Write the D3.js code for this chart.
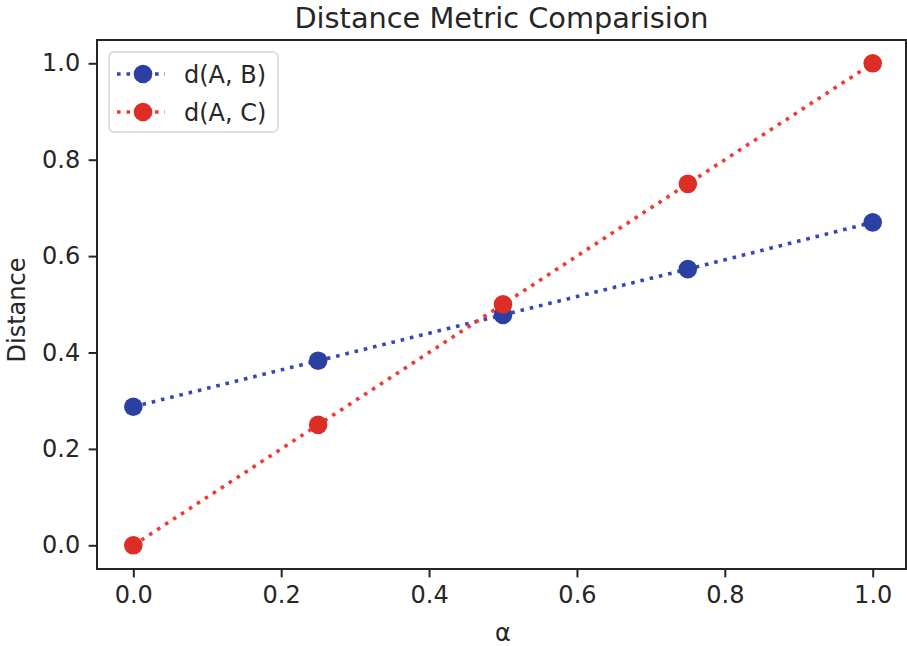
<!DOCTYPE html>
<html>
<head>
<meta charset="utf-8">
<script src="https://cdn.jsdelivr.net/npm/d3@7"></script>
<style>
  html, body { margin: 0; padding: 0; background: #fff; }
  svg { display: block; }
  text { font-family: "DejaVu Sans", sans-serif; fill: #262626; }
</style>
</head>
<body>
<svg id="chart" width="907" height="646"></svg>
<script>
const alphaValues = [0.0, 0.25, 0.5, 0.75, 1.0];
const dAB = [0.2875, 0.383, 0.478, 0.573, 0.670];
const dAC = [0.0, 0.25, 0.5, 0.75, 1.0];
const seriesNames = ["d(A, B)", "d(A, C)"];
const xTicks = [0.0, 0.2, 0.4, 0.6, 0.8, 1.0];
const yTicks = [0.0, 0.2, 0.4, 0.6, 0.8, 1.0];
const titleText = "Distance Metric Comparision";
const xLabel = "α";
const yLabel = "Distance";

const svg = d3.select("#chart");

// plot area
const plotL = 97, plotR = 906, plotT = 40, plotB = 569;
const x = d3.scaleLinear().domain([0, 1]).range([133.3, 872.7]);
const y = d3.scaleLinear().domain([0, 1]).range([545.3, 63.3]);

const series = [
  { name: seriesNames[0], values: dAB, line: "#3a44b6", marker: "#2c3fa3" },
  { name: seriesNames[1], values: dAC, line: "#f03a3a", marker: "#dc2e25" }
];

const fs = 24;

// axes
const xAxis = d3.axisBottom(x).tickValues(xTicks).tickFormat(d3.format(".1f"))
  .tickSize(8.4).tickPadding(8.4);
const gx = svg.append("g").attr("transform", `translate(0,${plotB})`).call(xAxis);
gx.select(".domain").remove();
gx.selectAll(".tick line").attr("stroke", "#262626").attr("stroke-width", 2);
gx.selectAll(".tick text").attr("font-size", fs).attr("font-family", "DejaVu Sans").attr("fill", "#262626");

const yAxis = d3.axisLeft(y).tickValues(yTicks).tickFormat(d3.format(".1f"))
  .tickSize(8.4).tickPadding(8.4);
const gy = svg.append("g").attr("transform", `translate(${plotL},0)`).call(yAxis);
gy.select(".domain").remove();
gy.selectAll(".tick line").attr("stroke", "#262626").attr("stroke-width", 2);
gy.selectAll(".tick text").attr("font-size", fs).attr("font-family", "DejaVu Sans").attr("fill", "#262626");

// lines and markers
const lineGen = d3.line().x((d, i) => x(alphaValues[i])).y(d => y(d));
series.forEach(s => {
  svg.append("path")
    .datum(s.values)
    .attr("d", lineGen)
    .attr("fill", "none")
    .attr("stroke", s.line)
    .attr("stroke-width", 3.6)
    .attr("stroke-dasharray", "3.6,5.9");
});
series.forEach(s => {
  svg.append("g").selectAll("circle")
    .data(s.values)
    .join("circle")
    .attr("cx", (d, i) => x(alphaValues[i]))
    .attr("cy", d => y(d))
    .attr("r", 9.3)
    .attr("fill", s.marker);
});

// spines
svg.append("rect")
  .attr("x", plotL).attr("y", plotT)
  .attr("width", plotR - plotL).attr("height", plotB - plotT)
  .attr("fill", "none").attr("stroke", "#262626").attr("stroke-width", 2);

// title and labels
svg.append("text").attr("x", (plotL + plotR) / 2).attr("y", 28)
  .attr("text-anchor", "middle").attr("font-size", 28.8).text(titleText);
svg.append("text").attr("x", 503).attr("y", 641)
  .attr("text-anchor", "middle").attr("font-size", fs).text(xLabel);
svg.append("text").attr("transform", `translate(25,310) rotate(-90)`)
  .attr("text-anchor", "middle").attr("font-size", fs).text(yLabel);

// legend
const lg = svg.append("g");
lg.append("rect").attr("x", 109).attr("y", 52).attr("width", 169).attr("height", 80)
  .attr("rx", 5).attr("fill", "#fff").attr("fill-opacity", 0.8)
  .attr("stroke", "#d6d6d6").attr("stroke-width", 1.5);
series.forEach((s, i) => {
  const yy = 74 + i * 38;
  lg.append("line").attr("x1", 117).attr("x2", 165).attr("y1", yy).attr("y2", yy)
    .attr("stroke", s.line).attr("stroke-width", 3.6).attr("stroke-dasharray", "3.6,5.9");
  lg.append("circle").attr("cx", 143).attr("cy", yy).attr("r", 9.3).attr("fill", s.marker);
  lg.append("text").attr("x", 184).attr("y", yy + 8.5).attr("font-size", fs).text(s.name);
});
</script>
</body>
</html>
